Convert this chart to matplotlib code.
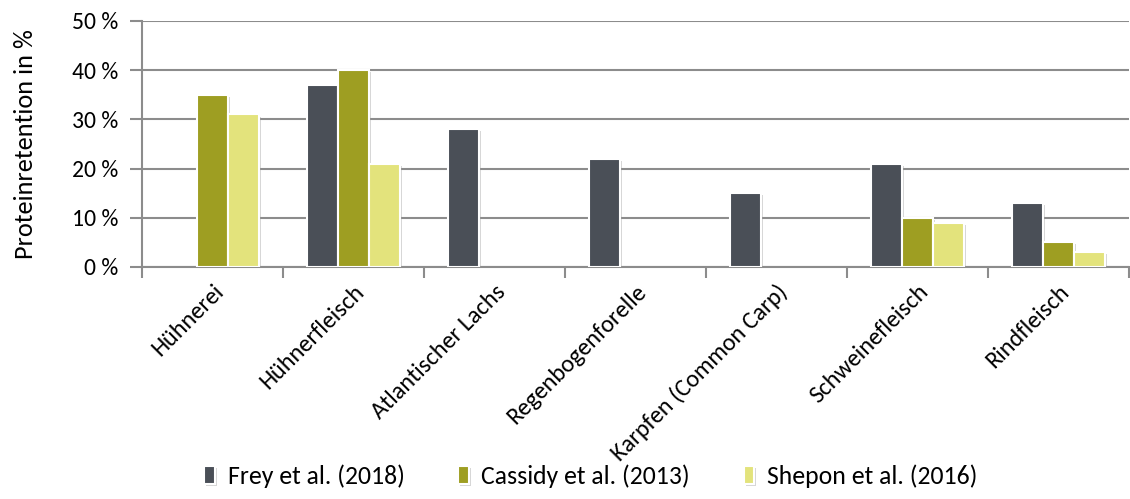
import numpy as np
import matplotlib
matplotlib.use("Agg")
import matplotlib.pyplot as plt
import matplotlib.patheffects as pe

plt.rcParams['font.family'] = ['Carlito', 'Liberation Sans Narrow', 'DejaVu Sans']

categories = ['Hühnerei', 'Hühnerfleisch', 'Atlantischer Lachs', 'Regenbogenforelle',
              'Karpfen (Common Carp)', 'Schweinefleisch', 'Rindfleisch']
series = ['Frey et al. (2018)', 'Cassidy et al. (2013)', 'Shepon et al. (2016)']
frey = [np.nan, 37, 28, 22, 15, 21, 13]
cassidy = [35, 40, np.nan, np.nan, np.nan, 10, 5]
shepon = [31, 21, np.nan, np.nan, np.nan, 9, 3]
colors = ['#4a4f57', '#9e9e22', '#e3e37c']

fig = plt.figure(figsize=(11.30, 4.99), dpi=100)
ax = fig.add_axes([0.1257, 0.465, 0.873, 0.493])

x = np.arange(len(categories))
w = 0.22
shadow = [pe.SimplePatchShadow(offset=(1.5, -1.5), shadow_rgbFace='#999999', alpha=0.4), pe.Normal()]
for i, (vals, c, name) in enumerate(zip([frey, cassidy, shepon], colors, series)):
    bars = ax.bar(x + (i - 1) * w, vals, width=w, color=c, edgecolor='white',
                  linewidth=1.5, label=name, zorder=3)
    for b in bars:
        b.set_path_effects(shadow)

ax.set_xlim(-0.5, len(categories) - 0.5)
ax.set_ylim(0, 50)
ax.set_yticks(range(0, 51, 10))
ax.set_yticklabels([f'{v} %' for v in range(0, 51, 10)], fontsize=17)
ax.yaxis.grid(True, color='#8c8c8c', linewidth=1.5, zorder=0)
ax.tick_params(axis='y', length=9, color='#8c8c8c', width=1.5, pad=8)

# category boundaries carry the ticks, labels sit under the bar groups
ax.set_xticks(np.arange(-0.5, len(categories)), minor=False)
ax.set_xticklabels([])
ax.set_xticks(x, minor=True)
ax.set_xticklabels(categories, minor=True, rotation=45, ha='right',
                   rotation_mode='anchor', fontsize=17.5)
ax.tick_params(axis='x', which='major', length=8, color='#8c8c8c', width=1.5)
ax.tick_params(axis='x', which='minor', length=0, pad=10)

for s in ['top', 'right']:
    ax.spines[s].set_visible(False)
for s in ['left', 'bottom']:
    ax.spines[s].set_color('#8c8c8c')
    ax.spines[s].set_linewidth(1.5)

ax.set_ylabel('Proteinretention in %', fontsize=19, labelpad=25)

fig.legend(loc='lower center', ncol=3, frameon=False, fontsize=18.5,
           bbox_to_anchor=(0.523, -0.025), handlelength=0.4, handleheight=0.7,
           columnspacing=2.1, handletextpad=0.5)

fig.savefig('out.png', dpi=100)
